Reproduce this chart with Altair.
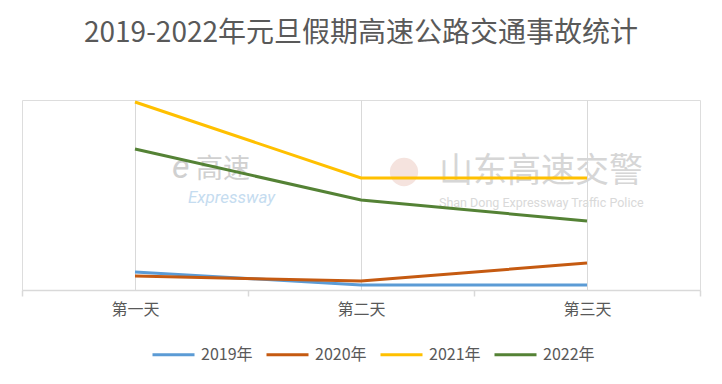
import altair as alt
import pandas as pd

days = ["第一天", "第二天", "第三天"]
years = ["2019年", "2020年", "2021年", "2022年"]
v2019 = [18, 5, 5]
v2020 = [14, 9, 27]
v2021 = [188, 112, 112]
v2022 = [141, 90, 69]
colors = ["#5B9BD5", "#C55A11", "#FFC000", "#548235"]
title = "2019-2022年元旦假期高速公路交通事故统计"

rows = []
for yr, vals in zip(years, [v2019, v2020, v2021, v2022]):
    for i, (d, v) in enumerate(zip(days, vals)):
        rows.append({"pos": i + 0.5, "day": d, "year": yr, "value": v})
df = pd.DataFrame(rows)

label_expr = "".join(
    f"datum.value == {i + 0.5} ? '{d}' : " for i, d in enumerate(days)
) + "''"
tick_vals = [0, 0.5, 1, 1.5, 2, 2.5, 3]
FONT = "Noto Sans CJK SC"

x = alt.X(
    "pos:Q",
    scale=alt.Scale(domain=[0, 3], nice=False, zero=False),
    axis=alt.Axis(
        values=tick_vals,
        labelExpr=label_expr,
        labelOverlap=False,
        labelFlush=False,
        title=None,
        grid=True,
        gridColor="#d9d9d9",
        gridWidth=1,
        gridOpacity={"condition": {"test": "datum.value % 1 == 0", "value": 0}, "value": 1},
        tickOpacity={"condition": {"test": "datum.value % 1 == 0", "value": 1}, "value": 0},
        tickColor="#d9d9d9",
        tickSize=6,
        tickWidth=1.5,
        domainColor="#d9d9d9",
        domainWidth=1.5,
        labelFont=FONT,
        labelFontSize=16,
        labelColor="#595959",
        labelPadding=5,
    ),
)
y = alt.Y("value:Q", scale=alt.Scale(domain=[0, 190], nice=False), axis=None)

base = alt.Chart(df)

lines = base.mark_line(strokeWidth=3).encode(
    x=x,
    y=y,
    color=alt.Color(
        "year:N",
        scale=alt.Scale(domain=years, range=colors),
        legend=alt.Legend(
            orient="none",
            legendX=129,
            legendY=232,
            direction="horizontal",
            title=None,
            symbolType="stroke",
            symbolSize=1764,
            symbolStrokeWidth=3,
            labelFont=FONT,
            labelFontSize=16,
            labelColor="#595959",
            labelOffset=5,
            columnPadding=7,
        ),
    ),
)

wm = pd.DataFrame({"t": [0]})
wm_base = alt.Chart(wm)
wm1 = wm_base.mark_text(text="山东高速交警", font=FONT, fontSize=34, color="#d6d6d6", align="left", baseline="middle").encode(
    x=alt.value(417), y=alt.value(72))
wm2 = wm_base.mark_text(text="Shan Dong Expressway Traffic Police", font="Roboto", fontSize=12.5, color="#d9d9d9", align="left", baseline="middle").encode(
    x=alt.value(417), y=alt.value(103))
wm3 = wm_base.mark_text(text="高速", font=FONT, fontSize=27, color="#d0d0d0", align="left", baseline="middle").encode(
    x=alt.value(174), y=alt.value(70))
wm4 = wm_base.mark_text(text="e", font="Roboto", fontSize=34, fontStyle="italic", color="#d0d0d0", align="left", baseline="middle").encode(
    x=alt.value(150), y=alt.value(68))
wm5 = wm_base.mark_text(text="Expressway", font="Roboto", fontSize=17, fontStyle="italic", color="#c5dcf0", align="left", baseline="middle").encode(
    x=alt.value(166), y=alt.value(98))
wm6 = wm_base.mark_circle(size=800, color="#f2dcd6", opacity=0.8).encode(
    x=alt.value(382), y=alt.value(72))

chart = alt.layer(wm6, wm1, wm2, wm3, wm4, wm5, lines).properties(
    width=678,
    height=190,
    title=alt.TitleParams(
        text=title,
        font=FONT,
        fontSize=28,
        fontWeight="normal",
        color="#595959",
        anchor="middle",
        offset=48,
    ),
    padding={"left": 13, "top": 12, "right": 10, "bottom": 4},
).configure_view(stroke=None).configure(background="white")

chart.save("out.html", embed_options={"renderer": "svg", "actions": False})
